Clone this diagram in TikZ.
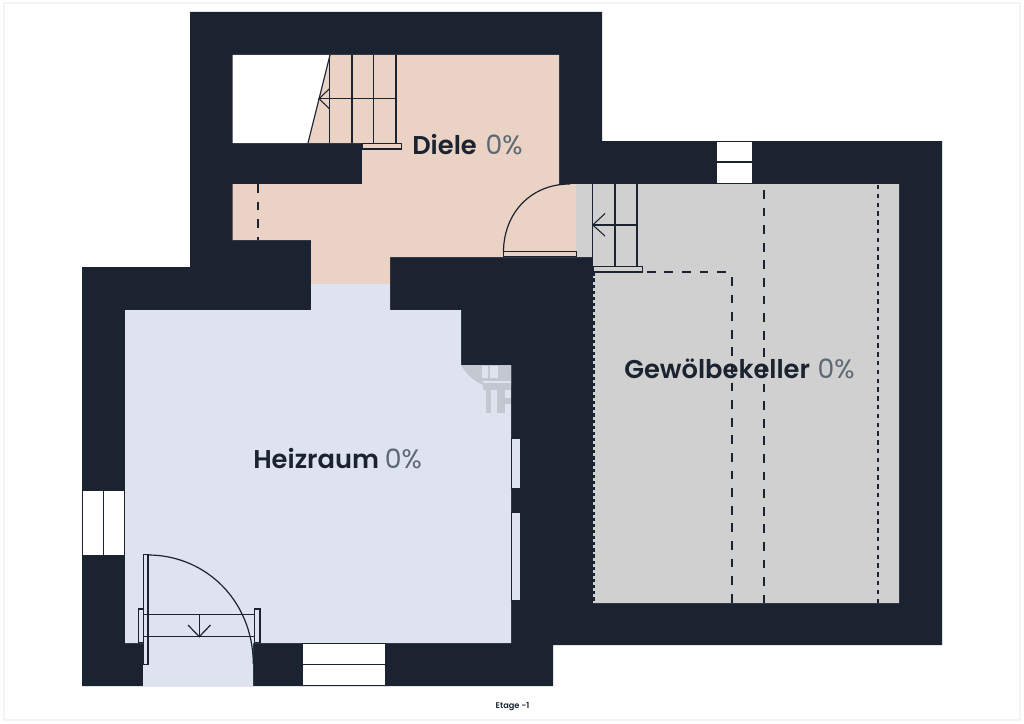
\documentclass[tikz,border=0pt]{standalone}
\usepackage{fontspec}
\setmainfont[BoldFont={Poppins SemiBold}]{Poppins}
\definecolor{wall}{HTML}{1B2330}
\definecolor{peach}{HTML}{EAD3C4}
\definecolor{blueroom}{HTML}{DFE3EF}
\definecolor{grayroom}{HTML}{D0D0D0}
\definecolor{pct}{HTML}{5C6874}
\definecolor{frameline}{HTML}{F3F3F3}
\definecolor{wmark}{HTML}{C3C7CF}
\tikzset{
  thinline/.style={draw=wall,line width=0.9pt},
  fineline/.style={draw=wall,line width=0.8pt},
  boxline/.style={draw=wall,line width=0.9pt},
  dashline/.style={draw=wall,line width=1.5pt,dash pattern=on 6.6pt off 6.6pt},
  denseline/.style={draw=wall,line width=1.5pt,dash pattern=on 3.3pt off 3.3pt},
  edgeline/.style={draw=wall,line width=1.2pt,dash pattern=on 2.4pt off 2.2pt},
  whitewin/.style={fill=white,draw=wall,line width=0.7pt},
  roomlabel/.style={font=\fontsize{19.3pt}{22pt}\selectfont,text=wall,inner sep=0pt,anchor=base west},
}
\newcommand{\pctlabel}{\textcolor{pct}{\fontsize{20pt}{22pt}\selectfont 0\%}}
\begin{document}
\begin{tikzpicture}[x=0.75pt,y=-0.75pt]
\useasboundingbox (0,0) rectangle (1024,724);
\fill[white] (0,0) rectangle (1024,724);
\draw[frameline,line width=1pt] (4,3) rectangle (1020,720);
% walls
\fill[wall] (190,12) -- (602,12) -- (602,141) -- (942,141) -- (942,645) -- (553,645) -- (553,686) -- (82,686) -- (82,267) -- (190,267) -- cycle;
% rooms
\fill[white] (232.5,55) -- (330,55) -- (308,143) -- (232.5,143) -- cycle;
\fill[peach] (329.7,55) -- (559,55) -- (559,184) -- (576,184) -- (576,257) -- (390,257) -- (390,284) -- (311,284) -- (311,240) -- (232.5,240) -- (232.5,184) -- (362,184) -- (362,143) -- (308,143) -- cycle;
\fill[blueroom] (125,310) -- (311,310) -- (311,284) -- (390,284) -- (390,310) -- (461,310) -- (461,365) -- (511,365) -- (511,643) -- (253,643) -- (253,686) -- (143,686) -- (143,643) -- (125,643) -- cycle;
\fill[grayroom] (576,184) -- (899,184) -- (899,603) -- (593,603) -- (593,257) -- (576,257) -- cycle;
% watermark remnant
\begin{scope}
\clip (461,365) rectangle (511,414);
\fill[wmark] (461,365) .. controls (466,374) and (474,381) .. (483,385) -- (511,385) -- (511,365) -- cycle;
\fill[blueroom] (482,366) rectangle (487.5,378);
\fill[blueroom] (490,366) rectangle (498,378);
\fill[blueroom] (483,381) rectangle (511,383);
\fill[wmark] (483,383) rectangle (497,390);
\fill[wmark] (485.5,385) rectangle (490.5,413);
\fill[wmark] (497,385) rectangle (505,413);
\fill[wmark] (497,383) rectangle (511,390);
\fill[wmark] (497,398) rectangle (511,404);
\end{scope}
% niches
\filldraw[fill=blueroom,draw=wall,line width=0.4pt] (511,438) rectangle (520,488.5);
\filldraw[fill=blueroom,draw=wall,line width=0.4pt] (511,512) rectangle (520,600.5);
% windows
\filldraw[whitewin] (82.5,490) rectangle (124.5,555);
\draw[fineline] (103.5,490) -- (103.5,555);
\filldraw[whitewin] (716,141.5) rectangle (752.5,183.5);
\draw[fineline] (716,162) -- (752.5,162);
\filldraw[whitewin] (302.7,643.5) rectangle (385.7,685.5);
\draw[fineline] (302.7,664.5) -- (385.7,664.5);
% Diele stairs
\draw[thinline] (330,55) -- (308,143);
\foreach \x in {329.7,352,373.7,396} \draw[thinline] (\x,55) -- (\x,143);
\draw[thinline] (319,98.7) -- (396,98.7);
\draw[fineline] (329.7,88.5) -- (319,98.7) -- (329.7,109);
\filldraw[fill=peach,boxline] (362,143.3) rectangle (401.7,149);
% Diele door
\draw[thinline] (503.5,252) .. controls (503.5,214) and (530,184) .. (570,184);
\filldraw[fill=peach,boxline] (503.5,251.8) rectangle (576.3,256.2);
% Keller stairs
\foreach \x in {592.7,615,637} \draw[thinline] (\x,184) -- (\x,266.7);
\draw[thinline] (592.7,225) -- (637,225);
\draw[fineline] (605,213.5) -- (592.7,225) -- (605,236);
\filldraw[fill=grayroom,boxline] (593.5,266.7) rectangle (642.5,272);
% Heizraum door
\draw[thinline] (148,555) .. controls (205,555) and (253,600) .. (253.3,664);
\filldraw[fill=blueroom,boxline] (143.5,554.5) rectangle (148,664.5);
\filldraw[fill=blueroom,boxline] (138.5,609) rectangle (143.5,642.5);
\filldraw[fill=blueroom,boxline] (254.5,609) rectangle (260,642.5);
\draw[thinline] (143.5,614.7) -- (254.5,614.7);
\draw[thinline] (143.5,636.7) -- (254.5,636.7);
\draw[thinline] (199.3,614.7) -- (199.3,636.7);
\draw[thinline] (188,625) -- (199.3,636.7) -- (210.5,625);
% dashed lines
\draw[dashline] (258,184) -- (258,240);
\draw[dashline] (594,272.3) -- (728,272.3);
\draw[dashline] (732,277) -- (732,603);
\draw[edgeline] (594,272.3) -- (594,603);
\draw[dashline] (764,190) -- (764,603);
\draw[denseline] (878,185) -- (878,603);
% labels
\node[roomlabel] (diele) at (412,154) {\textbf{Diele}\hspace{6.6pt}\pctlabel};
\node[roomlabel] (keller) at (624,378) {\textbf{Gewölbekeller}\hspace{5.7pt}\pctlabel};
\node[roomlabel] (heiz) at (253,468.5) {\textbf{Heizraum}\hspace{4.4pt}\pctlabel};
\node[font=\fontsize{6.2pt}{7pt}\selectfont\bfseries,text=wall,inner sep=0pt] (etage) at (512.5,707) {Etage -1};
\end{tikzpicture}
\end{document}
